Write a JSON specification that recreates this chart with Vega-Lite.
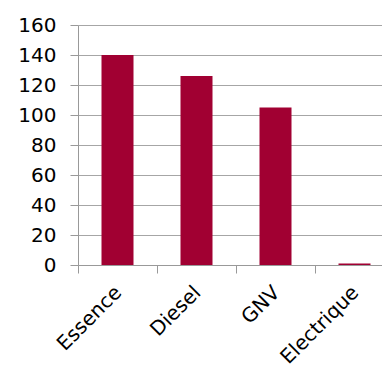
{
  "$schema": "https://vega.github.io/schema/vega-lite/v6.json",
  "width": 304,
  "height": 240,
  "autosize": {"type": "none"},
  "padding": {"left": 78, "top": 25, "right": 0, "bottom": 102},
  "background": "white",
  "config": {"view": {"stroke": null}, "font": "DejaVu Sans"},
  "data": {"values": [
    {"type": "Essence", "value": 140},
    {"type": "Diesel", "value": 126},
    {"type": "GNV", "value": 105},
    {"type": "Electrique", "value": 1}
  ]},
  "mark": {"type": "bar", "size": 32, "color": "#A10032"},
  "encoding": {
    "x": {
      "field": "type", "type": "nominal", "sort": null,
      "scale": {"range": [0, 316], "paddingInner": 0, "paddingOuter": 0},
      "axis": {
        "title": null, "labelAngle": -45, "labelFontSize": 20, "labelColor": "#000",
        "bandPosition": 0, "domainColor": "#999", "tickColor": "#999", "tickSize": 8,
        "labelPadding": 9, "labelOffset": -6, "grid": false
      }
    },
    "y": {
      "field": "value", "type": "quantitative",
      "scale": {"domain": [0, 160]},
      "axis": {
        "title": null, "values": [0,20,40,60,80,100,120,140,160], "labelFontSize": 20, "labelColor": "#000",
        "domainColor": "#999", "tickColor": "#999", "tickSize": 8, "labelPadding": 14,
        "grid": true, "gridColor": "#A6A6A6"
      }
    }
  }
}
